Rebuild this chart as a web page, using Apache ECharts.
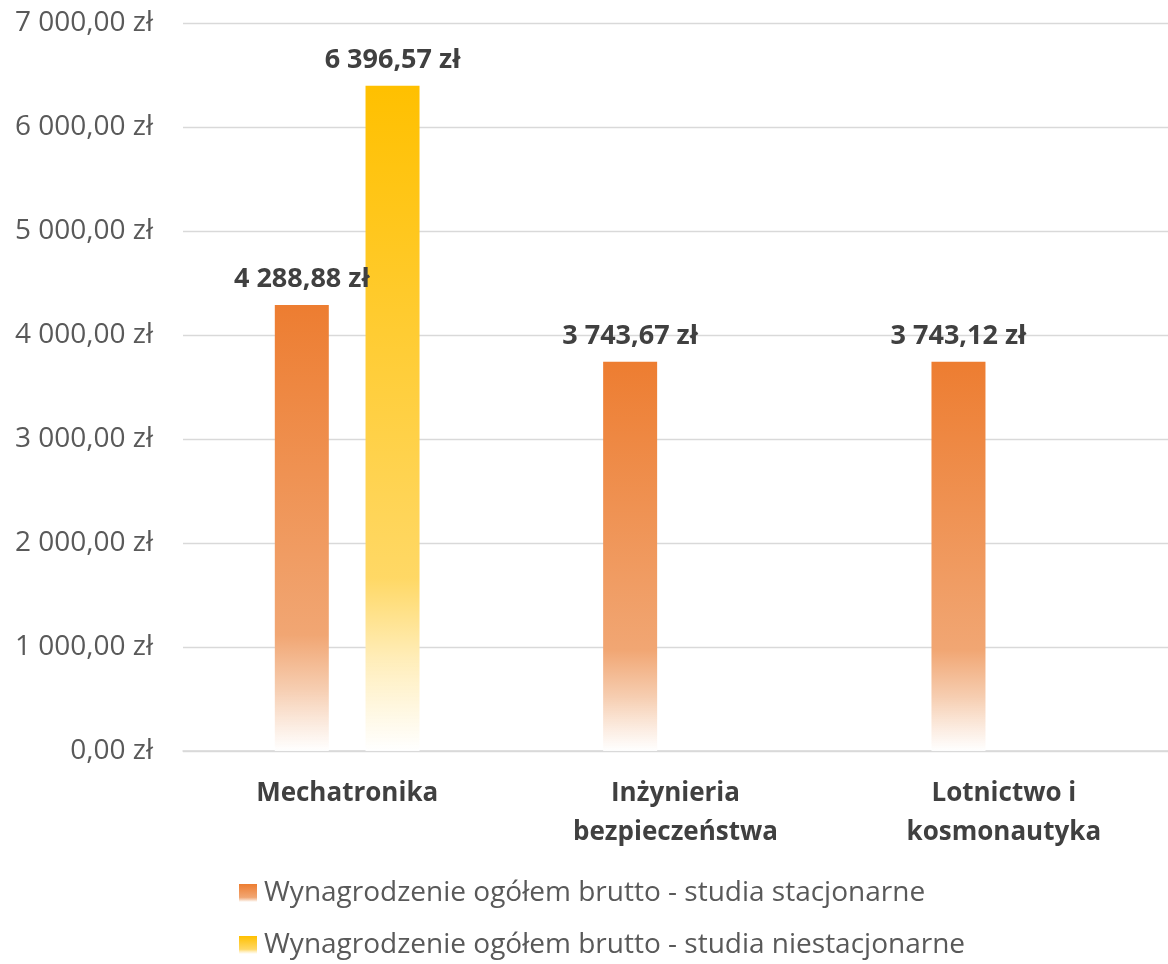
<!DOCTYPE html>
<html>
<head>
<meta charset="utf-8">
<script src="https://cdn.jsdelivr.net/npm/echarts@6/dist/echarts.min.js"></script>
<style>
  html, body { margin: 0; padding: 0; background: #fff; }
  #chart { width: 1168px; height: 964px; }
</style>
</head>
<body>
<div id="chart"></div>
<script>
// dane
const categories = ['Mechatronika', 'Inżynieria\nbezpieczeństwa', 'Lotnictwo i\nkosmonautyka'];
const seriesNames = [
    'Wynagrodzenie ogółem brutto - studia stacjonarne',
    'Wynagrodzenie ogółem brutto - studia niestacjonarne'
];
const stacjonarne = [4288.88, 3743.67, 3743.12];
const niestacjonarne = [6396.57, null, null];

const FONT = '"Open Sans", "Noto Sans", sans-serif';

// 1234.5 -> "1 234,50 zł"
function zl (v) {
    const parts = Number(v).toFixed(2).split('.');
    return parts[0].replace(/\B(?=(\d{3})+(?!\d))/g, ' ') + ',' + parts[1] + ' zł';
}

function fade (top, mid, low) {
    return new echarts.graphic.LinearGradient(0, 0, 0, 1, [
        { offset: 0, color: top },
        { offset: 0.74, color: mid },
        { offset: 0.86, color: low },
        { offset: 1, color: 'rgba(255,255,255,0.9)' }
    ]);
}

const orange = fade('#ED7D31', '#F1A673', '#F6CDB0');
const yellow = fade('#FFC000', '#FFD865', '#FFEDB8');

const label = {
    show: true,
    position: 'top',
    distance: 12,
    fontFamily: FONT,
    fontSize: 27,
    fontWeight: 'bold',
    color: '#404040',
    formatter: p => zl(p.value)
};

const chart = echarts.init(document.getElementById('chart'));
chart.setOption({
    animation: false,
    textStyle: { fontFamily: FONT },
    grid: { left: 183, right: 0, top: 23, bottom: 213, containLabel: false },
    legend: {
        orient: 'vertical',
        left: 239,
        top: 879,
        padding: 0,
        itemGap: 24,
        itemWidth: 18,
        itemHeight: 18,
        icon: 'rect',
        textStyle: { fontFamily: FONT, fontSize: 28, color: '#595959', padding: [0, 0, 0, 2] },
        data: seriesNames
    },
    xAxis: {
        type: 'category',
        data: categories,
        axisLine: { lineStyle: { color: '#D9D9D9', width: 1.5 } },
        axisTick: { show: false },
        axisLabel: {
            fontFamily: FONT,
            fontSize: 26,
            fontWeight: 'bold',
            color: '#404040',
            lineHeight: 39,
            margin: 23
        }
    },
    yAxis: {
        type: 'value',
        min: 0,
        max: 7000,
        interval: 1000,
        axisLine: { show: false },
        axisTick: { show: false },
        splitLine: { lineStyle: { color: '#D9D9D9', width: 1.3 } },
        axisLabel: {
            fontFamily: FONT,
            fontSize: 28,
            color: '#595959',
            margin: 30,
            formatter: v => zl(v)
        }
    },
    series: [
        {
            name: seriesNames[0],
            type: 'bar',
            data: stacjonarne,
            barWidth: 54,
            barGap: '68%',
            itemStyle: { color: orange },
            label: label
        },
        {
            name: seriesNames[1],
            type: 'bar',
            data: niestacjonarne,
            barWidth: 54,
            itemStyle: { color: yellow },
            label: label
        }
    ]
});
</script>
</body>
</html>
